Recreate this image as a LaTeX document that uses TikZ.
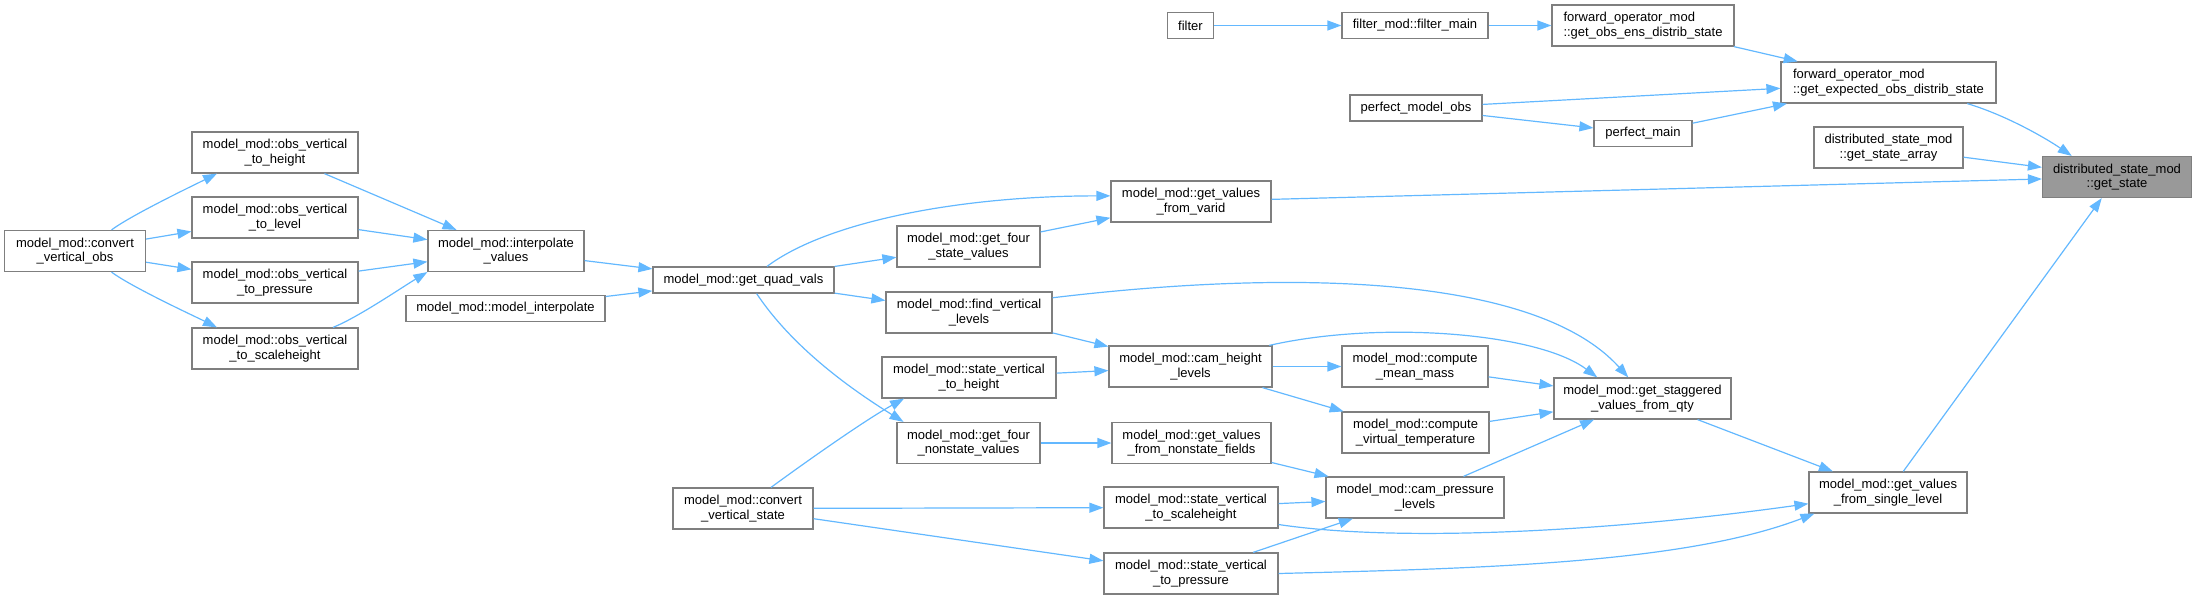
\documentclass[tikz,border=0pt]{standalone}
\usepackage{fontspec}
\setmainfont{Liberation Sans}
\usetikzlibrary{arrows.meta}
\definecolor{callblue}{HTML}{63B8FF}
\definecolor{boxgrey}{HTML}{7F7F7F}
\definecolor{curgrey}{HTML}{999999}
\tikzset{cg/.style={x=1pt,y=-1pt,line width=1.2pt,font=\fontsize{13}{14.7}\selectfont,>={Triangle[length=14pt,width=10pt]}},
  fn/.style={draw=boxgrey,fill=white,inner sep=0pt,align=center,minimum height=41pt},
  fnone/.style={fn,minimum height=26pt},
  cur/.style={fn,fill=curgrey},
  call/.style={callblue,->}}
\begin{document}
\begin{tikzpicture}[cg]
  \useasboundingbox (0,0) rectangle (2198,599);
  % driver chain down to get_state
  \node[fnone,minimum width=46pt] (filter) at (1190.5,25.5) {filter};
  \node[fnone,minimum width=146pt] (filtermain) at (1415,25.5) {filter\_mod::filter\_main};
  \node[fn,minimum width=182pt,align=left] (obsens) at (1643,25.5) {forward\_operator\_mod\\::get\_obs\_ens\_distrib\_state};
  \node[fn,minimum width=215pt,align=left] (expobs) at (1888.5,82.5) {forward\_operator\_mod\\::get\_expected\_obs\_distrib\_state};
  \node[fnone,minimum width=132pt] (pmo) at (1416,108) {perfect\_model\_obs};
  \node[fnone,minimum width=98pt] (pmain) at (1643,133.5) {perfect\_main};
  \node[fn,minimum width=149pt] (statearray) at (1888.5,147.5) {distributed\_state\_mod\\::get\_state\_array};
  \node[cur,minimum width=149pt] (getstate) at (2117,177) {distributed\_state\_mod\\::get\_state};
  \node[fn,minimum width=160pt] (varid) at (1191,201.5) {model\_mod::get\_values\\\_from\_varid};
  % obs side
  \node[fn,minimum width=141pt] (cvobs) at (75,251) {model\_mod::convert\\\_vertical\_obs};
  \node[fn,minimum width=166pt] (ovheight) at (275,152.5) {model\_mod::obs\_vertical\\\_to\_height};
  \node[fn,minimum width=166pt] (ovlevel) at (275,217.5) {model\_mod::obs\_vertical\\\_to\_level};
  \node[fn,minimum width=166pt] (ovpressure) at (275,282.5) {model\_mod::obs\_vertical\\\_to\_pressure};
  \node[fn,minimum width=166pt] (ovscale) at (275,348.5) {model\_mod::obs\_vertical\\\_to\_scaleheight};
  \node[fn,minimum width=156pt] (interp) at (506,251) {model\_mod::interpolate\\\_values};
  \node[fnone,minimum width=199pt] (minterp) at (505.5,308.5) {model\_mod::model\_interpolate};
  \node[fnone,minimum width=181pt] (quad) at (743.5,280) {model\_mod::get\_quad\_vals};
  \node[fn,minimum width=143pt] (fourstate) at (968.5,246.5) {model\_mod::get\_four\\\_state\_values};
  \node[fn,minimum width=166pt] (findvert) at (969,312.5) {model\_mod::find\_vertical\\\_levels};
  \node[fn,minimum width=174pt] (svheight) at (969,377.5) {model\_mod::state\_vertical\\\_to\_height};
  \node[fn,minimum width=143pt] (fournonstate) at (968.5,443) {model\_mod::get\_four\\\_nonstate\_values};
  \node[fn,minimum width=140pt] (cvstate) at (743,508.5) {model\_mod::convert\\\_vertical\_state};
  % cam levels
  \node[fn,minimum width=163pt] (camheight) at (1190.5,366.5) {model\_mod::cam\_height\\\_levels};
  \node[fn,minimum width=159pt] (nonstate) at (1191.5,443) {model\_mod::get\_values\\\_from\_nonstate\_fields};
  \node[fn,minimum width=174pt] (svscale) at (1191,507.5) {model\_mod::state\_vertical\\\_to\_scaleheight};
  \node[fn,minimum width=174pt] (svpress) at (1191,573.5) {model\_mod::state\_vertical\\\_to\_pressure};
  \node[fn,minimum width=146pt] (meanmass) at (1415,366.5) {model\_mod::compute\\\_mean\_mass};
  \node[fn,minimum width=147pt] (virttemp) at (1415.5,432.5) {model\_mod::compute\\\_virtual\_temperature};
  \node[fn,minimum width=178pt] (campress) at (1415,497.5) {model\_mod::cam\_pressure\\\_levels};
  \node[fn,minimum width=177pt] (stagger) at (1642.5,398.5) {model\_mod::get\_staggered\\\_values\_from\_qty};
  \node[fn,minimum width=158pt] (single) at (1888,492.5) {model\_mod::get\_values\\\_from\_single\_level};

  \draw[call] (filter)--(filtermain); \draw[call] (filtermain)--(obsens); \draw[call] (obsens)--(expobs);
  \draw[call] (expobs.-15) .. controls +(40,12) and +(-25,-17) .. (getstate.155);
  \draw[call] (pmo)--(expobs); \draw[call] (pmo)--(pmain); \draw[call] (pmain)--(expobs);
  \draw[call] (statearray)--(getstate); \draw[call] (varid)--(getstate); \draw[call] (single)--(getstate);
  % quad vals fan
  \draw[call] (quad.30) .. controls +(60,-45) and +(-150,0) .. (varid.176);
  \draw[call] (fourstate)--(varid); \draw[call] (quad)--(fourstate); \draw[call] (quad)--(findvert);
  \draw[call] (quad.-46) .. controls +(40,60) and +(-40,-25) .. (fournonstate.162);
  \draw[call] (interp)--(quad); \draw[call] (minterp)--(quad);
  \draw[call] (ovheight)--(interp); \draw[call] (ovlevel)--(interp); \draw[call] (ovpressure)--(interp);
  \draw[call] (ovscale.20) .. controls +(25,-10) and +(-25,15) .. (interp.195);
  \draw[call] (cvobs.30) .. controls +(20,-15) and +(-20,10) .. (ovheight.200);
  \draw[call] (cvobs)--(ovlevel); \draw[call] (cvobs)--(ovpressure);
  \draw[call] (cvobs.-30) .. controls +(20,15) and +(-20,-10) .. (ovscale.160);
  % staggered values
  \draw[call] (findvert)--(camheight);
  \draw[call] (findvert.10) .. controls +(250,-30) and +(-90,-100) .. (stagger.124);
  \draw[call] (camheight.15) .. controls +(110,-25) and +(-60,-45) .. (stagger.155);
  \draw[call] (camheight)--(meanmass); \draw[call] (camheight)--(virttemp); \draw[call] (svheight)--(camheight);
  \draw[call] (meanmass)--(stagger); \draw[call] (virttemp)--(stagger);
  \draw[call] (fournonstate)--(nonstate); \draw[call] (nonstate)--(campress); \draw[call] (campress)--(stagger);
  \draw[call] (stagger)--(single);
  \draw[call] (svscale)--(campress); \draw[call] (svpress)--(campress);
  \draw[call] (svscale.-11) .. controls +(120,18) and +(-200,28) .. (single.188);
  \draw[call] (svpress.east) .. controls +(200,-5) and +(-130,50) .. (single.196);
  \draw[call] (cvstate.37) .. controls +(30,-22) and +(-40,22) .. (svheight.198);
  \draw[call] (cvstate)--(svscale); \draw[call] (cvstate)--(svpress);
\end{tikzpicture}
\end{document}
